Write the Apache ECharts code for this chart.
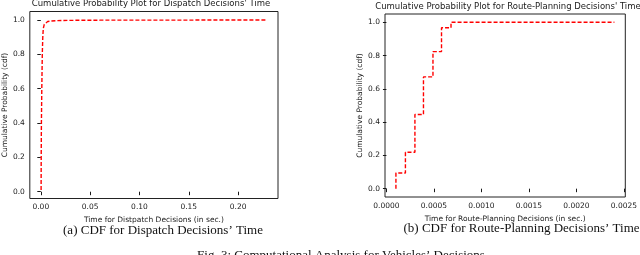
<!DOCTYPE html>
<html><head><meta charset="utf-8">
<script src="https://cdn.jsdelivr.net/npm/echarts@6/dist/echarts.min.js"></script>
<style>html,body{margin:0;padding:0;background:#fff}#c{width:640px;height:255px}</style>
</head><body><div id="c"></div>
<script>
// ---- data ----
const dispatchTime = [0.0003, 0.0004, 0.0006, 0.0010, 0.0015, 0.0020, 0.0025, 0.0035, 0.0050, 0.0070, 0.0100, 0.0150, 0.0300, 0.0600, 0.2290];
const dispatchCdf  = [0.010, 0.200, 0.400, 0.600, 0.800, 0.900, 0.950, 0.975, 0.985, 0.991, 0.994, 0.996, 0.998, 0.999, 1.000];
const routeTime = [0.0001, 0.0001, 0.0002, 0.0003, 0.00039, 0.00049, 0.00058, 0.00068, 0.0024];
const routeCdf  = [0.000, 0.094, 0.219, 0.446, 0.672, 0.824, 0.967, 1.000, 1.000];
const dispatchXTicks = [0, 0.05, 0.10, 0.15, 0.20];
const routeXTicks = [0, 0.0005, 0.0010, 0.0015, 0.0020, 0.0025];
const cdfTicks = [0, 0.2, 0.4, 0.6, 0.8, 1.0];
const titles = ["Cumulative Probability Plot for Dispatch Decisions' Time", "Cumulative Probability Plot for Route-Planning Decisions' Time"];
const xNames = ["Time for Distpatch Decisions (in sec.)", "Time for Route-Planning Decisions (in sec.)"];
const yName = "Cumulative Probability (cdf)";
const captions = ["(a) CDF for Dispatch Decisions\u2019 Time", "(b) CDF for Route-Planning Decisions\u2019 Time"];
const figCaption = "Fig. 3: Computational Analysis for Vehicles\u2019 Decisions";

// ---- chart ----
const SANS = 'DejaVu Sans';
const INK = '#1a1a1a';
function pad(arr){ const mn = Math.min(...arr), mx = Math.max(...arr), m = (mx-mn)*0.05; return [mn-m, mx+m]; }
const dX = pad(dispatchTime), dY = pad(dispatchCdf), rX = pad(routeTime), rY = pad(routeCdf);

function xAxis(idx, range, ticks, dec, name, gap){
  return {
    type:'value', gridIndex: idx, min: range[0], max: range[1],
    name: name, nameLocation:'middle', nameGap: gap,
    nameTextStyle:{fontFamily:SANS, fontSize:7.5, color:INK},
    axisLine:{show:false}, splitLine:{show:false},
    axisTick:{show:true, inside:false, length:3.5, lineStyle:{color:INK, width:1}, customValues: ticks},
    axisLabel:{fontFamily:SANS, fontSize:7.5, color:INK, margin:5, customValues: ticks,
      formatter: v => v.toFixed(dec)}
  };
}
function yAxis(idx, range, gap){
  return {
    type:'value', gridIndex: idx, min: range[0], max: range[1],
    name: yName, nameLocation:'middle', nameGap: gap, nameRotate: 90,
    nameTextStyle:{fontFamily:SANS, fontSize:7.5, color:INK},
    axisLine:{show:false}, splitLine:{show:false},
    axisTick:{show:true, inside:false, length:3.5, lineStyle:{color:INK, width:1}, customValues: cdfTicks},
    axisLabel:{fontFamily:SANS, fontSize:7.5, color:INK, margin:5, customValues: cdfTicks,
      formatter: v => v.toFixed(1)}
  };
}
const lineStyle = {color:'#ff0000', width:1.4, type:[4,2]};
const option = {
  animation:false,
  backgroundColor:'#fff',
  grid:[
    {left:27, top:11.5, width:251, height:187, show:true, borderColor:'#222', borderWidth:1, backgroundColor:'transparent'},
    {left:385, top:14, width:246, height:183, show:true, borderColor:'#222', borderWidth:1, backgroundColor:'transparent'}
  ],
  xAxis:[ xAxis(0, dX, dispatchXTicks, 2, xNames[0], 15), xAxis(1, rX, routeXTicks, 4, xNames[1], 15) ],
  yAxis:[ yAxis(0, dY, 20), yAxis(1, rY, 19.5) ],
  series:[
    {type:'line', xAxisIndex:0, yAxisIndex:0, showSymbol:false, symbol:'none',
     data: dispatchTime.map((t,i)=>[t, dispatchCdf[i]]), lineStyle},
    {type:'line', xAxisIndex:1, yAxisIndex:1, showSymbol:false, symbol:'none', step:'end',
     data: routeTime.map((t,i)=>[t, routeCdf[i]]), lineStyle}
  ],
  graphic:[
    {type:'text', x:151, y:4, style:{text:titles[0], font:'8.5px "DejaVu Sans"', fill:INK, align:'center', verticalAlign:'middle'}},
    {type:'text', x:508, y:6.5, style:{text:titles[1], font:'8.5px "DejaVu Sans"', fill:INK, align:'center', verticalAlign:'middle'}},
    {type:'text', x:163, y:231, style:{text:captions[0], font:'13px "Liberation Serif"', fill:'#111', align:'center', verticalAlign:'middle'}},
    {type:'text', x:521.5, y:229, style:{text:captions[1], font:'13px "Liberation Serif"', fill:'#111', align:'center', verticalAlign:'middle'}},
    {type:'text', x:341, y:256, style:{text:figCaption, font:'13px "Liberation Serif"', fill:'#111', align:'center', verticalAlign:'middle'}}
  ]
};
const chart = echarts.init(document.getElementById('c'), null, {renderer:'canvas'});
chart.setOption(option);
</script>
</body></html>
